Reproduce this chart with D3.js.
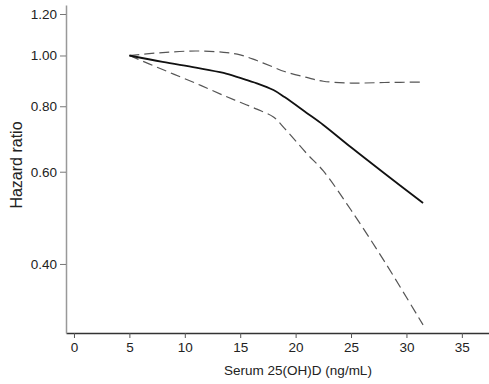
<!DOCTYPE html>
<html>
<head>
<meta charset="utf-8">
<script src="https://cdn.jsdelivr.net/npm/d3@7"></script>
<style>
  body { margin: 0; background: #fff; }
  text { font-family: "Liberation Sans", Arial, sans-serif; fill: #222; }
</style>
</head>
<body>
<script>
// Serum 25(OH)D vs hazard ratio, with upper/lower confidence bands
var vitD = [5, 8, 11, 13.5, 15, 16.5, 18, 19, 21, 22.5, 25, 28, 31.5];
var hazard = [1.00, 0.972, 0.948, 0.926, 0.906, 0.885, 0.859, 0.833, 0.777, 0.737, 0.668, 0.596, 0.523];
var upperCI = [1.00, 1.013, 1.02, 1.014, 1.003, 0.978, 0.95, 0.932, 0.908, 0.893, 0.886, 0.888, 0.890];
var lowerCI = [1.00, 0.94, 0.885, 0.839, 0.814, 0.79, 0.763, 0.726, 0.65, 0.602, 0.507, 0.405, 0.306];

var xTicks = [0, 5, 10, 15, 20, 25, 30, 35];
var yTicks = [0.40, 0.60, 0.80, 1.00, 1.20];

var w = 489;
var h = 384;

var svg = d3.select("body")
  .append("svg")
  .attr("width", w)
  .attr("height", h);

// x is linear, y is a log scale (ticks are spaced on ln)
var scaleX = d3.scaleLinear()
  .domain([-0.72, 37.45])
  .range([66, 489]);

var scaleY = d3.scaleLog()
  .domain([0.2953, 1.2485])
  .range([333, 5]);

// x axis
var xAxis = svg.append("g")
  .attr("transform", "translate(0,333)")
  .call(d3.axisBottom(scaleX).tickValues(xTicks).tickSize(5).tickSizeOuter(0).tickPadding(4));
xAxis.select(".domain").attr("stroke", "#333").attr("stroke-width", 1.3);
xAxis.selectAll(".tick line").attr("stroke", "#555");
xAxis.selectAll("text").style("font-size", "13.5px").attr("fill", "#222");

// y axis
var yAxis = svg.append("g")
  .attr("transform", "translate(66,0)")
  .call(d3.axisLeft(scaleY).tickValues(yTicks).tickFormat(d3.format(".2f")).tickSize(6).tickSizeOuter(0).tickPadding(3));
yAxis.select(".domain").attr("stroke", "#999").attr("stroke-width", 1.5);
yAxis.selectAll(".tick line").attr("stroke", "#777");
yAxis.selectAll("text").style("font-size", "13.5px").attr("fill", "#222");

// axis titles
svg.append("text")
  .attr("x", 298)
  .attr("y", 375)
  .attr("text-anchor", "middle")
  .style("font-size", "13.5px")
  .text("Serum 25(OH)D (ng/mL)");

svg.append("text")
  .attr("transform", "translate(22,165) rotate(-90)")
  .attr("text-anchor", "middle")
  .style("font-size", "16px")
  .text("Hazard ratio");

// lines
function lineFor(values) {
  return d3.line()
    .x(function(d, i) { return scaleX(vitD[i]); })
    .y(function(d) { return scaleY(d); })
    .curve(d3.curveCatmullRom)(values);
}

svg.append("path")
  .attr("d", lineFor(upperCI))
  .attr("fill", "none")
  .attr("stroke", "#555")
  .attr("stroke-width", 1.2)
  .attr("stroke-dasharray", "10,5");

svg.append("path")
  .attr("d", lineFor(lowerCI))
  .attr("fill", "none")
  .attr("stroke", "#555")
  .attr("stroke-width", 1.2)
  .attr("stroke-dasharray", "10,5");

svg.append("path")
  .attr("d", lineFor(hazard))
  .attr("fill", "none")
  .attr("stroke", "#111")
  .attr("stroke-width", 1.8);
</script>
</body>
</html>
